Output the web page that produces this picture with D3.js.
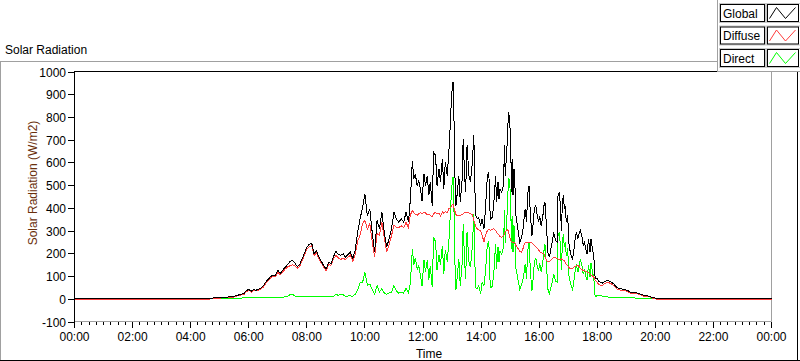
<!DOCTYPE html>
<html><head><meta charset="utf-8">
<script src="https://cdn.jsdelivr.net/npm/d3@7"></script>
<style>
html,body{margin:0;padding:0;background:#fff;}
svg{display:block;font-family:"Liberation Sans",Arial,sans-serif;}
</style></head><body>
<svg id="c" width="800" height="361"></svg>
<script>
const times = ["00:00","04:25","04:30","04:40","04:50","05:00","05:10","05:20","05:30","05:35","05:40","05:45","05:50","05:55",
"06:00","06:05","06:10","06:15","06:20","06:25","06:30","06:35","06:40","06:45","06:50","06:55",
"07:00","07:05","07:10","07:15","07:20","07:25","07:30","07:35","07:40","07:45","07:50","07:55",
"08:00","08:05","08:10","08:15","08:20","08:25","08:30","08:35","08:40","08:45","08:50","08:55",
"09:00","09:05","09:10","09:15","09:20","09:25","09:30","09:35","09:40","09:45","09:50","09:55",
"10:00","10:05","10:10","10:15","10:20","10:25","10:30","10:35","10:40","10:45","10:50","10:55",
"11:00","11:05","11:10","11:15","11:20","11:25","11:30","11:34","11:38","11:41","11:44","11:48","11:51","11:55","11:58",
"12:02","12:05","12:09","12:12","12:15","12:19","12:22","12:26","12:29","12:33","12:36","12:40","12:43","12:46","12:50","12:53","12:57","12:59",
"13:02","13:04","13:06","13:08","13:11","13:14","13:17","13:21","13:23","13:26","13:28","13:31","13:35","13:38","13:42","13:45","13:47","13:49","13:52","13:55","13:59",
"14:02","14:06","14:09","14:13","14:16","14:19","14:23","14:26","14:30","14:32","14:35","14:37","14:39","14:42","14:45","14:47","14:48","14:50","14:54","14:56","14:57","14:59",
"15:01","15:03","15:04","15:06","15:08","15:10","15:11","15:13","15:16","15:18","15:20","15:23","15:26","15:28","15:31","15:34","15:36","15:39","15:42","15:45","15:48","15:50","15:53","15:56","15:59",
"16:01","16:04","16:07","16:10","16:12","16:15","16:18","16:21","16:23","16:27","16:30","16:34","16:37","16:39","16:42","16:44","16:46","16:48","16:50","16:52","16:54","16:56","16:59",
"17:01","17:03","17:06","17:09","17:12","17:15","17:17","17:20","17:23","17:25","17:28","17:31","17:34","17:36","17:39","17:42","17:45","17:47","17:50","17:53","17:55","17:57",
"18:00","18:03","18:07","18:10","18:13","18:21","18:27","18:34","18:38","18:44","18:55",
"19:02","19:09","19:23","19:36","19:46","19:54","20:05","20:15","24:00"];

const globalRad = [0,0,1,2,4,6,7,8,11,15,17,20,23,35,
42,33,40,38,41,47,56,73,85,98,104,103,
125,112,125,138,150,163,170,158,142,150,175,200,
227,240,245,198,212,183,165,145,132,160,155,185,
210,195,192,198,183,195,205,176,215,293,352,400,
462,366,396,293,205,345,308,381,293,227,264,308,
381,350,337,352,337,381,337,440,608,528,550,498,520,480,430,
550,498,542,455,513,410,645,630,498,572,513,616,484,601,542,630,792,894,
953,792,542,410,469,542,425,528,704,542,469,675,542,513,601,719,498,366,352,359,322,
352,308,396,542,557,350,359,410,542,425,513,440,484,469,484,542,675,542,689,792,821,792,
689,469,616,455,572,498,381,352,308,278,249,264,293,337,396,337,455,498,366,278,337,396,410,366,337,
366,322,352,410,425,322,205,183,205,249,293,256,249,455,469,396,300,425,455,396,410,337,366,
249,220,190,176,220,278,293,264,293,302,278,235,249,220,198,264,205,264,220,183,103,88,
88,75,73,68,73,81,75,66,55,45,42,
37,29,25,15,12,5,1,0,0];

const diffuseRad = [-4,-4,-2,-1,1,3,4,5,8,12,14,17,19,31,
38,29,36,34,37,43,51,68,80,92,98,97,
118,105,118,130,140,145,150,145,134,142,167,192,
217,228,233,190,202,175,157,137,124,152,147,175,
190,180,172,180,172,183,192,165,195,253,280,330,
345,306,331,253,185,287,278,336,268,207,239,278,
323,315,312,322,312,336,312,370,388,380,370,368,374,378,375,
380,378,370,372,368,360,375,380,372,378,365,382,375,385,378,395,400,410,
418,400,385,370,366,366,368,370,375,378,380,382,378,375,370,345,330,318,308,303,300,
280,250,280,300,305,302,305,308,300,292,286,280,275,271,275,278,285,295,305,300,290,275,
255,250,250,249,249,245,240,230,222,215,208,205,215,235,245,249,249,249,249,245,238,235,230,222,215,
208,203,200,198,185,170,162,162,168,176,183,180,176,175,174,174,175,172,170,168,160,150,145,
140,135,132,135,139,143,146,147,140,132,128,125,123,120,117,114,110,105,100,95,85,78,
72,62,60,56,63,73,68,59,48,39,37,
32,25,22,12,10,3,-3,-4,-4];

const directRad = [0,0,1,2,2,3,3,3,3,3,3,3,4,4,
4,4,4,4,4,4,5,5,5,6,6,6,
7,7,7,8,10,18,20,13,8,8,8,8,
10,12,12,8,10,8,8,8,8,8,8,10,
20,15,20,18,11,12,13,11,20,40,72,70,
117,60,65,40,20,58,30,45,25,20,25,30,
58,35,25,30,25,45,25,70,220,148,180,130,146,102,55,
170,120,172,83,145,50,270,250,126,194,148,234,109,216,164,235,392,484,
535,392,157,40,103,176,57,158,329,164,89,293,164,138,231,374,168,48,44,56,22,
72,58,116,242,252,48,54,102,242,133,227,160,209,198,209,264,390,247,384,492,531,517,
434,219,366,206,323,253,141,122,86,63,41,59,78,102,151,88,206,249,117,33,99,161,180,144,122,
158,119,152,212,240,152,43,21,37,73,110,76,73,280,295,222,125,253,285,228,250,187,221,
109,85,58,41,81,135,147,117,153,170,150,110,126,100,81,150,95,159,120,88,18,10,
16,13,13,12,10,8,7,7,7,6,5,
5,4,3,3,2,1,0,0,0];

const seriesNames = ["Global","Diffuse","Direct"];
const seriesColors = ["#000000","#ff3c3c","#00ff00"];
const yTicks = [-100,0,100,200,300,400,500,600,700,800,900,1000];
const xTickLabels = ["00:00","02:00","04:00","06:00","08:00","10:00","12:00","14:00","16:00","18:00","20:00","22:00","00:00"];

const svg = d3.select("#c");
const toMin = s => { const [h,m] = s.split(":").map(Number); return h*60+m; };
const tMin = times.map(toMin);

const L = 74.5, R = 771.5, T = 71.5, B = 321.5;
const x = d3.scaleLinear().domain([0,1440]).range([L,R]);
const y = d3.scaleLinear().domain([-100,1000]).range([B,T]);

// outer frame
svg.append("line").attr("x1",0).attr("x2",718).attr("y1",61.5).attr("y2",61.5).attr("stroke","#a0a0a0");
svg.append("line").attr("x1",0.5).attr("x2",0.5).attr("y1",61).attr("y2",361).attr("stroke","#a0a0a0");
svg.append("line").attr("x1",0).attr("x2",800).attr("y1",360.5).attr("y2",360.5).attr("stroke","#000");
svg.append("line").attr("x1",797.5).attr("x2",797.5).attr("y1",61).attr("y2",361).attr("stroke","#000");

// title
svg.append("text").attr("x",5).attr("y",54).attr("font-size",12).attr("fill","#000").text("Solar Radiation");

// plot frame
svg.append("line").attr("x1",L).attr("x2",R).attr("y1",B).attr("y2",B).attr("stroke","#a0a0a0");
svg.append("line").attr("x1",R).attr("x2",R).attr("y1",T).attr("y2",B).attr("stroke","#a0a0a0");
svg.append("line").attr("x1",L-0.5).attr("x2",R).attr("y1",T).attr("y2",T).attr("stroke","#000");
svg.append("line").attr("x1",L).attr("x2",L).attr("y1",T).attr("y2",B+0.5).attr("stroke","#000");

// y ticks
const yAxis = svg.append("g");
yTicks.forEach(v=>{
  const yy = Math.round(y(v))+0.5;
  yAxis.append("line").attr("x1",68).attr("x2",L).attr("y1",yy).attr("y2",yy).attr("stroke","#000");
  yAxis.append("text").attr("x",66).attr("y",yy+4).attr("text-anchor","end").attr("font-size",12).attr("fill","#000").text(v);
});
svg.append("text").attr("transform","translate(37,183) rotate(-90)").attr("text-anchor","middle")
  .attr("font-size",12).attr("fill","#6a2f0c").text("Solar Radiation (W/m2)");

// x ticks
const xAxis = svg.append("g");
d3.range(0,1441,15).forEach(m=>{
  const xx = Math.round(x(m)-0.5)+0.5;
  const major = m % 120 === 0;
  xAxis.append("line").attr("x1",xx).attr("x2",xx).attr("y1",B+0.5).attr("y2",B+(major?6.5:3.5)).attr("stroke","#000");
});
xTickLabels.forEach((lab,i)=>{
  xAxis.append("text").attr("x",x(i*120)).attr("y",341).attr("text-anchor","middle").attr("font-size",12).attr("fill","#000").text(lab);
});
svg.append("text").attr("x",429).attr("y",358).attr("text-anchor","middle").attr("font-size",12).attr("fill","#000").text("Time");

// data lines
const seriesVals = [globalRad, diffuseRad, directRad];
const line = d3.line().x(d=>x(d[0])).y(d=>y(d[1]));
[2,1,0].forEach(k=>{
  const pts = tMin.map((t,i)=>[t, seriesVals[k][i]]);
  svg.append("path").attr("d",line(pts)).attr("fill","none").attr("stroke",seriesColors[k])
    .attr("stroke-width",1).attr("shape-rendering","crispEdges");
});

// legend
const lg = svg.append("g");
lg.append("rect").attr("x",717.5).attr("y",-2).attr("width",90).attr("height",73.5).attr("fill","#fff").attr("stroke","#a0a0a0");
seriesNames.forEach((n,i)=>{
  const top = 4.5 + i*22.5;
  lg.append("rect").attr("x",719.5).attr("y",top-1).attr("width",46).attr("height",19).attr("fill","none").attr("stroke","#c8c8c8");
  lg.append("rect").attr("x",720.5).attr("y",top).attr("width",44).attr("height",17).attr("fill","#fff").attr("stroke","#000");
  lg.append("text").attr("x",723).attr("y",top+13).attr("font-size",12).attr("fill","#000").text(n);
  lg.append("rect").attr("x",766.5).attr("y",top-1).attr("width",34).attr("height",19).attr("fill","none").attr("stroke","#c8c8c8");
  lg.append("rect").attr("x",767.5).attr("y",top).attr("width",31).attr("height",17).attr("fill","#fff").attr("stroke","#000");
  const sx = 767.5, sy = top;
  lg.append("path").attr("d",`M${sx+2},${sy+14}L${sx+9},${sy+3}L${sx+18},${sy+14}L${sx+28},${sy+3}`)
    .attr("fill","none").attr("stroke",seriesColors[i]).attr("stroke-width",1);
});
</script>
</body></html>
